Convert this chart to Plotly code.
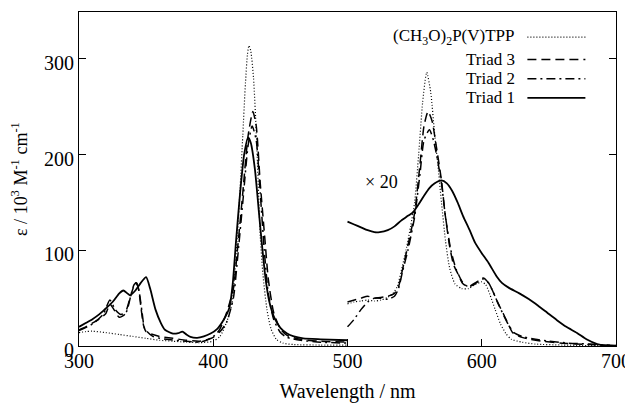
import plotly.graph_objects as go

# ---------------- data ----------------
# (CH3O)2P(V)TPP  -- dotted
tpp_wl_left = [300, 305, 310, 320, 330, 340, 350, 360, 370, 380, 390, 400, 405, 410, 414, 416, 418, 420, 422, 424, 425.5, 426.6, 428, 430, 432, 434, 435, 437, 440, 443, 447, 452, 460, 480, 500]
tpp_eps_left = [14, 15, 15.5, 14, 12, 10, 8, 6, 5, 4, 3.5, 5, 10, 25, 45, 75, 115, 165, 220, 275, 305, 314, 308, 280, 225, 150, 115, 75, 38, 18, 7, 3, 1.5, 1, 1]
tpp_wl_right = [500, 505, 510, 515, 520, 525, 530, 534, 537, 540, 544, 547, 550, 553, 556, 559, 562, 565, 567, 570, 573, 576, 580, 585, 590, 595, 600, 603, 606, 610, 614, 618, 622, 630, 640, 660, 700]
tpp_eps_right = [44, 46, 47, 48, 47, 48, 51, 55, 62, 78, 103, 125, 150, 200, 255, 286, 265, 220, 194, 150, 110, 82, 65, 60, 60, 64, 67, 64, 54, 38, 23, 13, 7, 4, 2, 1, 0]

# Triad 3 -- dashed
t3_wl_left = [300, 305, 310, 315, 320, 323, 326, 330, 334, 338, 342, 344, 346, 348, 350, 355, 360, 370, 380, 390, 400, 405, 410, 415, 418, 422, 426, 429.5, 432, 435, 438.5, 441, 445, 450, 455, 465, 480, 500]
t3_eps_left = [17, 20, 24, 28, 34, 44, 38, 30, 33, 50, 66, 62, 42, 22, 15, 12, 10, 8, 6, 5, 9, 18, 35, 60, 100, 160, 220, 245, 230, 170, 111, 70, 35, 18, 11, 7, 5, 4]
t3_wl_right = [500, 510, 515, 520, 530, 535, 538, 541, 545, 550, 554, 557, 560, 563, 566, 570, 572.6, 576, 579, 582, 586, 590, 595, 601, 605, 608, 612, 616, 620, 623, 630, 636, 645, 660, 680, 700]
t3_eps_right = [46, 50, 52, 50, 52, 55, 62, 80, 105, 139, 190, 230, 245, 235, 210, 173, 139, 105, 85, 76, 65, 62, 65, 71, 66, 58, 45, 34, 22, 14, 9, 7, 5, 3, 1.5, 0.5]

# Triad 2 -- dash-dot
t2_wl_left = [300, 310, 318, 323, 327, 331, 335, 339, 341, 343, 345, 347, 349, 355, 365, 380, 390, 395, 400, 405, 410, 415, 418, 422, 426, 429, 432, 435, 438, 441, 445, 450, 455, 465, 480, 500]
t2_eps_left = [16, 23, 33, 48, 38, 33, 35, 55, 64, 66, 55, 35, 18, 10, 7, 5, 4, 6, 10, 15, 25, 50, 90, 150, 210, 230, 215, 160, 100, 55, 28, 14, 9, 6, 4, 3]
t2_wl_right = [500, 505, 510, 515, 520, 525, 530, 535, 538, 541, 545, 550, 554, 557, 561, 564, 567, 570, 573, 577, 581, 586, 590, 595, 601, 605, 608, 612, 616, 620, 624, 630, 640, 650, 665, 680, 700]
t2_eps_right = [20, 28, 38, 46, 50, 50, 49, 52, 60, 78, 100, 135, 180, 215, 226, 215, 195, 170, 135, 100, 80, 66, 62, 66, 70, 66, 58, 45, 33, 22, 14, 10, 7, 5, 3, 2, 0.5]

# Triad 1 -- solid
t1_wl_left = [300, 305, 310, 315, 319, 325, 330, 333, 336, 338, 342, 346, 350, 353, 357, 361, 364, 370, 374, 377, 380, 383, 388, 393, 398, 403, 408, 412, 414.5, 417, 420, 423, 426, 428, 431, 434, 436, 439, 442, 446, 450, 455, 460, 467, 480, 500]
t1_eps_left = [20, 24, 28, 33, 38, 46, 55, 58, 55, 53, 58, 66, 72, 60, 38, 24, 17, 13, 13.5, 15, 12, 9.5, 8.5, 10, 13, 18, 28, 40, 65, 110, 160, 200, 218, 212, 185, 140, 110, 70, 45, 28, 19, 13, 10, 8, 7, 6]
t1_wl_right = [500, 505, 510, 515, 520, 524, 530, 535, 540, 545, 549, 553, 557, 561, 565, 570, 574, 578, 582, 586, 591, 595, 600, 605, 611, 615, 620, 628, 635, 642, 649, 656, 663, 671, 678, 686, 692, 700]
t1_eps_right = [130, 127, 124, 121, 119, 119, 121, 125, 131, 136, 140, 148, 157, 165, 170, 173, 170, 162, 150, 136, 121, 108, 97, 87, 73, 66, 61, 55, 49, 42, 34.5, 27, 20, 13.6, 7, 2, 0.5, 0]

series_names = ["(CH<sub>3</sub>O)<sub>2</sub>P(V)TPP", "Triad 3", "Triad 2", "Triad 1"]
x_ticks = [300, 400, 500, 600, 700]
y_ticks = [0, 100, 200, 300]

# ---------------- styling ----------------
FONT = "Liberation Serif, Times New Roman, serif"
styles = [
    dict(color="black", width=1.2, dash="1px,2px"),
    dict(color="black", width=1.5, dash="9px,5px"),
    dict(color="black", width=1.5, dash="9px,4px,2px,4px"),
    dict(color="black", width=1.8, dash="solid"),
]

data = [
    (tpp_wl_left, tpp_eps_left, tpp_wl_right, tpp_eps_right),
    (t3_wl_left, t3_eps_left, t3_wl_right, t3_eps_right),
    (t2_wl_left, t2_eps_left, t2_wl_right, t2_eps_right),
    (t1_wl_left, t1_eps_left, t1_wl_right, t1_eps_right),
]

fig = go.Figure()
for name, st, (xl, yl, xr, yr) in zip(series_names, styles, data):
    for xs, ys in ((xl, yl), (xr, yr)):
        fig.add_trace(go.Scatter(x=xs, y=ys, mode="lines", name=name,
                                 line=dict(shape="spline", smoothing=0.6, **st),
                                 showlegend=False, hoverinfo="skip"))

# custom legend (text on the left, line sample on the right)
leg_y = [0.925, 0.858, 0.800, 0.743]
for name, st, yy in zip(series_names, styles, leg_y):
    fig.add_annotation(x=0.816, y=yy, xref="paper", yref="paper", text=name,
                       showarrow=False, xanchor="right", yanchor="middle",
                       font=dict(family=FONT, size=17, color="black"))
    fig.add_shape(type="line", xref="paper", yref="paper", x0=0.835, x1=0.943,
                  y0=yy, y1=yy, line=dict(color="black", width=st["width"], dash=st["dash"]))

fig.add_annotation(x=525.5, y=171, text="× 20", showarrow=False,
                   font=dict(family=FONT, size=18, color="black"))

# the page body has an 8px default margin, so the figure is sized to fit inside it
fig.update_layout(
    width=625, height=400,
    margin=dict(l=71, r=17, t=4, b=62),
    paper_bgcolor="white", plot_bgcolor="white",
    font=dict(family=FONT, color="black"),
    xaxis=dict(range=[300, 700], tickvals=x_ticks, ticks="inside", ticklen=7,
               tickcolor="black", showgrid=False, zeroline=False, automargin=False,
               showline=True, linecolor="black", linewidth=1, mirror=True,
               ticklabelstandoff=-3,
               tickfont=dict(family=FONT, size=20, color="black"),
               title=dict(text="Wavelength / nm", font=dict(family=FONT, size=20), standoff=12)),
    yaxis=dict(range=[0, 349], tickvals=y_ticks, ticks="inside", ticklen=7,
               tickcolor="black", showgrid=False, zeroline=False, automargin=False,
               showline=True, linecolor="black", linewidth=1, mirror="ticks",
               ticklabelshift=4,
               tickfont=dict(family=FONT, size=20, color="black"),
               title=dict(text="ε / 10<sup>3</sup> M<sup>-1</sup> cm<sup>-1</sup>",
                          font=dict(family=FONT, size=18), standoff=12)),
)

fig.write_html("out.html")
